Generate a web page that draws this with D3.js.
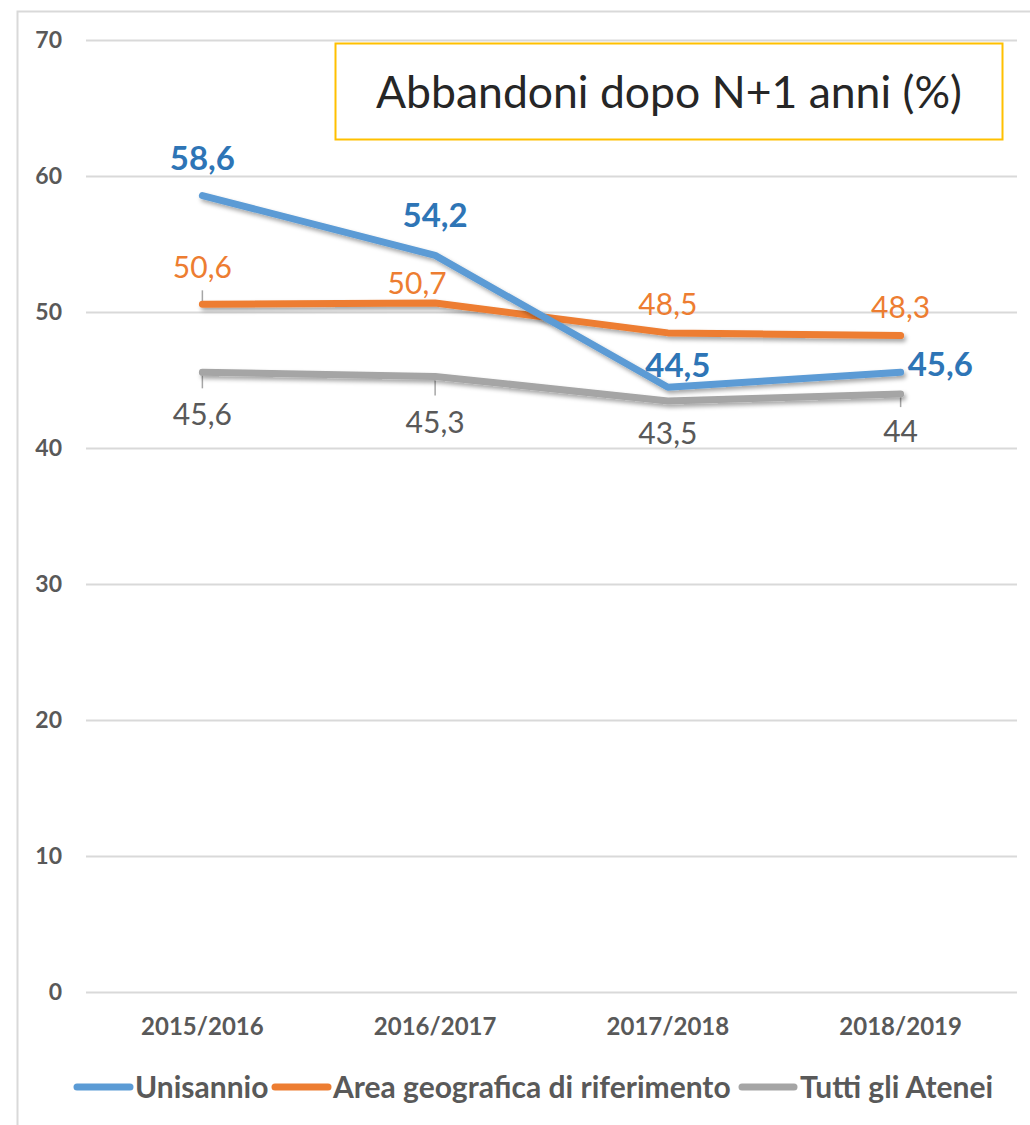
<!DOCTYPE html>
<html>
<head>
<meta charset="utf-8">
<script src="https://cdn.jsdelivr.net/npm/d3@7"></script>
<style>
  body { margin: 0; background: #fff; }
  svg { display: block; font-family: Lato, "Open Sans", sans-serif; }
</style>
</head>
<body>
<svg id="chart" width="1030" height="1125"></svg>
<script>
// chart data
var years = ["2015/2016", "2016/2017", "2017/2018", "2018/2019"];
var unisannio = [58.6, 54.2, 44.5, 45.6];
var areaGeo = [50.6, 50.7, 48.5, 48.3];
var tuttiAtenei = [45.6, 45.3, 43.5, 44];
var yTicks = [0, 10, 20, 30, 40, 50, 60, 70];
var seriesNames = ["Unisannio", "Area geografica di riferimento", "Tutti gli Atenei"];
var titleText = "Abbandoni dopo N+1 anni (%)";

var svg = d3.select("#chart");

// outer frame
svg.append("rect")
    .attr("x", 17.5).attr("y", 11.5)
    .attr("width", 1040).attr("height", 1140)
    .attr("fill", "none")
    .attr("stroke", "#d9d9d9")
    .attr("stroke-width", 2);

// shadow filter for the lines
var defs = svg.append("defs");
var f = defs.append("filter").attr("id", "shadow")
    .attr("x", "-10%").attr("y", "-50%").attr("width", "120%").attr("height", "200%");
f.append("feDropShadow")
    .attr("dx", 2).attr("dy", 3).attr("stdDeviation", 2)
    .attr("flood-color", "#000").attr("flood-opacity", 0.35);

var x = d3.scaleBand().domain(years).range([86, 1017]);
var y = d3.scaleLinear().domain([0, 70]).range([992.5, 40.5]);
function cx(d) { return x(d) + x.bandwidth() / 2; }

// gridlines
svg.append("g").selectAll("line")
    .data(yTicks)
    .enter().append("line")
    .attr("x1", 86).attr("x2", 1017)
    .attr("y1", function(d) { return y(d); })
    .attr("y2", function(d) { return y(d); })
    .attr("stroke", "#d9d9d9")
    .attr("stroke-width", 2);

// y axis (no domain line)
var yAxis = d3.axisLeft(y).tickValues(yTicks).tickSize(0).tickPadding(0);
var gy = svg.append("g").attr("transform", "translate(62,0)").call(yAxis);
gy.select(".domain").remove();
gy.selectAll("text")
    .attr("font-family", "Lato, sans-serif")
    .attr("font-size", 23).attr("font-weight", "bold")
    .attr("fill", "#595959");

// x axis labels
var xAxis = d3.axisBottom(x).tickSize(0).tickPadding(0);
var gx = svg.append("g").attr("transform", "translate(0,1027)").call(xAxis);
gx.select(".domain").remove();
gx.selectAll("text")
    .attr("dy", "0.35em")
    .attr("font-family", "Lato, sans-serif")
    .attr("font-size", 24).attr("font-weight", "bold")
    .attr("fill", "#595959");

// series
var series = [
    { name: seriesNames[0], values: unisannio, color: "#5b9bd5", labelColor: "#2e75b6",
      size: 33, weight: "bold",
      offs: [[0, -37], [0, -40], [10, -22], [7, -8]], anchors: ["middle", "middle", "middle", "start"] },
    { name: seriesNames[1], values: areaGeo, color: "#ed7d31", labelColor: "#ed7d31",
      size: 30, weight: "normal",
      offs: [[0, -37], [-18, -19], [0, -28], [0, -28]], anchors: ["middle", "middle", "middle", "middle"] },
    { name: seriesNames[2], values: tuttiAtenei, color: "#a5a5a5", labelColor: "#595959",
      size: 30, weight: "normal",
      offs: [[0, 42], [0, 46], [0, 33], [0, 37]], anchors: ["middle", "middle", "middle", "middle"] }
];

// leader lines (little ticks between point and label)
var leaders = [
    { s: 1, i: 0, y0: -14, y1: 0 },
    { s: 2, i: 0, y0: 0, y1: 16 },
    { s: 2, i: 1, y0: 4, y1: 19 },
    { s: 2, i: 3, y0: 1, y1: 13 }
];
svg.append("g").selectAll("line")
    .data(leaders)
    .enter().append("line")
    .attr("x1", function(d) { return cx(years[d.i]); })
    .attr("x2", function(d) { return cx(years[d.i]); })
    .attr("y1", function(d) { return y(series[d.s].values[d.i]) + d.y0; })
    .attr("y2", function(d) { return y(series[d.s].values[d.i]) + d.y1; })
    .attr("stroke", "#a6a6a6")
    .attr("stroke-width", 1.5);

var line = d3.line()
    .x(function(d, i) { return cx(years[i]); })
    .y(function(d) { return y(d); });

// draw gray first, then orange, then blue on top
[2, 1, 0].forEach(function(k) {
    var s = series[k];
    svg.append("path")
        .datum(s.values)
        .attr("d", line)
        .attr("fill", "none")
        .attr("stroke", s.color)
        .attr("stroke-width", 7)
        .attr("stroke-linecap", "round")
        .attr("stroke-linejoin", "round")
        .attr("filter", "url(#shadow)");
});

// data labels
series.forEach(function(s) {
    svg.append("g").selectAll("text")
        .data(s.values)
        .enter().append("text")
        .attr("x", function(d, i) { return cx(years[i]) + s.offs[i][0]; })
        .attr("y", function(d, i) { return y(d) + s.offs[i][1]; })
        .attr("dy", "0.35em")
        .attr("text-anchor", function(d, i) { return s.anchors[i]; })
        .attr("font-size", s.size)
        .attr("font-weight", s.weight)
        .attr("fill", s.labelColor)
        .text(function(d) { return String(d).replace(".", ","); });
});

// title box
svg.append("rect")
    .attr("x", 335.5).attr("y", 43.5)
    .attr("width", 667).attr("height", 96)
    .attr("fill", "#fff")
    .attr("stroke", "#ffc000")
    .attr("stroke-width", 2);
svg.append("text")
    .attr("x", 669).attr("y", 108)
    .attr("text-anchor", "middle")
    .attr("font-size", 44.5)
    .attr("fill", "#262626")
    .text(titleText);

// legend
var legendPos = [
    { x1: 77, x2: 130, tx: 135 },
    { x1: 275, x2: 328, tx: 333 },
    { x1: 742, x2: 794, tx: 800 }
];
var lg = svg.append("g").selectAll("g")
    .data(series)
    .enter().append("g");
lg.append("line")
    .attr("x1", function(d, i) { return legendPos[i].x1; })
    .attr("x2", function(d, i) { return legendPos[i].x2; })
    .attr("y1", 1087).attr("y2", 1087)
    .attr("stroke", function(d) { return d.color; })
    .attr("stroke-width", 7)
    .attr("stroke-linecap", "round");
lg.append("text")
    .attr("x", function(d, i) { return legendPos[i].tx; })
    .attr("y", 1087)
    .attr("dy", "0.35em")
    .attr("font-size", 30)
    .attr("font-weight", "bold")
    .attr("fill", "#595959")
    .text(function(d) { return d.name; });
</script>
</body>
</html>
